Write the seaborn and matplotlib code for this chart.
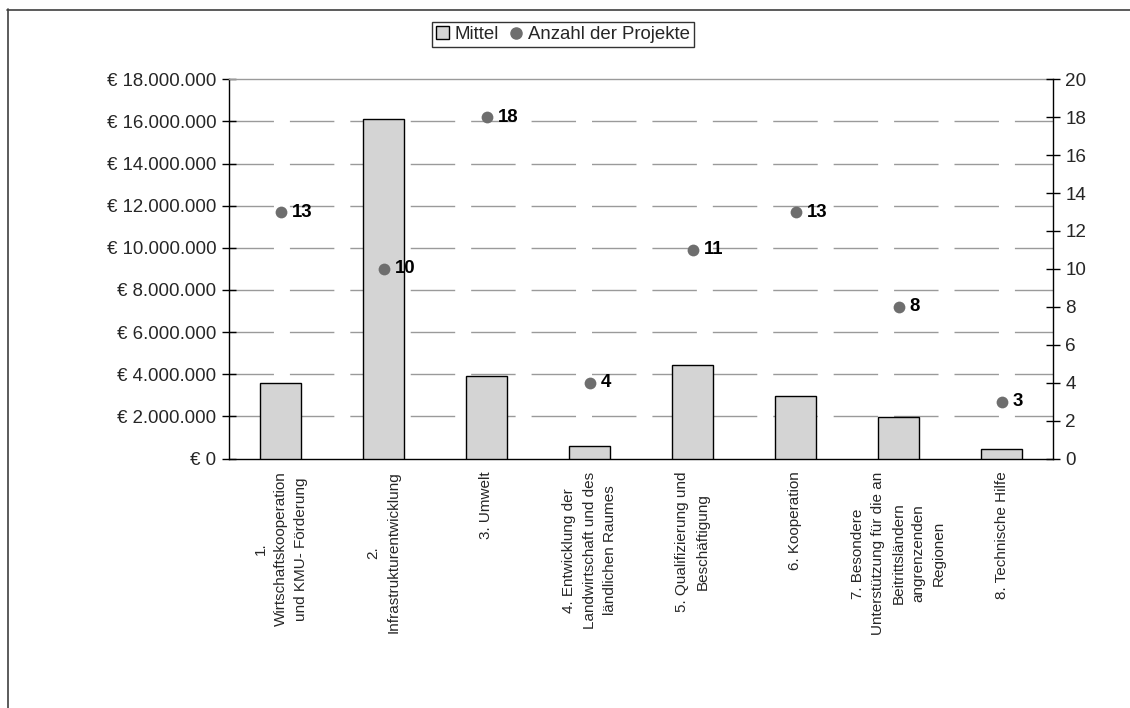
import numpy as np
import pandas as pd
import matplotlib
matplotlib.use("Agg")
import matplotlib.pyplot as plt
from matplotlib.lines import Line2D
from matplotlib.patches import Patch
import seaborn as sns

categories = [
    "1.\nWirtschaftskooperation\nund KMU- Förderung",
    "2.\nInfrastrukturentwicklung",
    "3. Umwelt",
    "4. Entwicklung der\nLandwirtschaft und des\nländlichen Raumes",
    "5. Qualifizierung und\nBeschäftigung",
    "6. Kooperation",
    "7. Besondere\nUnterstützung für die an\nBeitrittsländern\nangrenzenden\nRegionen",
    "8. Technische Hilfe",
]
mittel = [3600000, 16100000, 3900000, 580000, 4450000, 2950000, 1950000, 470000]
projekte = [13, 10, 18, 4, 11, 13, 8, 3]
left_ticks = list(range(0, 18000001, 2000000))
right_ticks = list(range(0, 21, 2))

sns.set_theme(style="white")
plt.rcParams["font.family"] = ["Liberation Sans", "DejaVu Sans"]
plt.rcParams["font.size"] = 13.4

W, H = 1130, 708
fig = plt.figure(figsize=(W / 100, H / 100), dpi=100)
ax = fig.add_axes([229 / W, 1 - 458.5 / H, (1053 - 229) / W, (458.5 - 79.3) / H])

df = pd.DataFrame({"cat": categories, "mittel": mittel, "pos": np.arange(len(categories)),
                   "projekte": projekte})

sns.barplot(data=df, x="cat", y="mittel", ax=ax, color="#d4d4d4", width=0.4,
            edgecolor="black", linewidth=1.0, saturation=1, zorder=3)
ax.set_xlim(-0.5, len(categories) - 0.5)
ax.set_ylim(0, 18000000)
ax.set_yticks(left_ticks)
ax.set_yticklabels(["€ " + f"{v:,.0f}".replace(",", ".") for v in left_ticks], fontsize=13.4)
ax.set_xlabel("")
ax.set_ylabel("")
ax.set_xticks(np.arange(len(categories)))
ax.set_xticklabels(categories, rotation=90, ha="center", va="top", fontsize=11,
                   multialignment="center", linespacing=1.55)
ax.tick_params(axis="x", which="major", length=0, pad=9.5)
ax.set_xticks(np.arange(-0.5, len(categories)), minor=True)
ax.tick_params(axis="x", which="minor", direction="inout", length=10, width=1, color="black")
ax.tick_params(axis="y", which="major", direction="inout", length=10, width=1, color="black",
               left=True, pad=4)
for y in left_ticks[1:-1]:
    ax.axhline(y, color="#9a9a9a", lw=1.0, dashes=(32, 11.5), zorder=0)
ax.spines["top"].set_color("#9a9a9a")
ax.spines["top"].set_linewidth(1.0)
ax.spines["left"].set_color("black")
ax.spines["bottom"].set_color("black")
ax.spines["right"].set_visible(False)
for s in ["left", "bottom"]:
    ax.spines[s].set_linewidth(1.0)

ax2 = ax.twinx()
sns.scatterplot(data=df, x="pos", y="projekte", ax=ax2, color="#6e6e6e", s=72,
                edgecolor="#6e6e6e", linewidth=0, zorder=5)
ax2.set_ylim(0, 20)
ax2.set_yticks(right_ticks)
ax2.set_yticklabels([str(v) for v in right_ticks], fontsize=13.6)
ax2.set_ylabel("")
ax2.set_xlabel("")
ax2.tick_params(axis="y", direction="inout", length=10, width=1, color="black", right=True, pad=4)
for s in ["top", "left", "bottom"]:
    ax2.spines[s].set_visible(False)
ax2.spines["right"].set_color("black")
ax2.spines["right"].set_linewidth(1.0)
ax2.set_xlim(-0.5, len(categories) - 0.5)

for xi, v in zip(df["pos"], projekte):
    ax2.annotate(str(v), (xi, v), xytext=(8, 0), textcoords="offset points",
                 ha="left", va="center", fontsize=13.4, fontweight="bold", color="black")

handles = [Patch(facecolor="#d4d4d4", edgecolor="black", linewidth=1.0),
           Line2D([], [], marker="o", linestyle="none", color="#6e6e6e", markersize=8)]
leg = fig.legend(handles, ["Mittel", "Anzahl der Projekte"], loc="center",
                 bbox_to_anchor=(563 / W, 1 - 34.7 / H), ncol=2, frameon=True,
                 fancybox=False, edgecolor="black", fontsize=13.4, handlelength=0.7,
                 handleheight=0.7, handletextpad=0.3, columnspacing=0.6,
                 borderpad=0.2, borderaxespad=0)
leg.get_frame().set_linewidth(1.0)

fig.add_artist(Line2D([7.5 / W, 7.5 / W], [0, 1 - 9 / H], color="#404040", lw=1.2,
                      transform=fig.transFigure))
fig.add_artist(Line2D([7 / W, 1], [1 - 9.5 / H, 1 - 9.5 / H], color="#404040", lw=1.2,
                      transform=fig.transFigure))

fig.savefig("out.png", dpi=100, facecolor="white")
